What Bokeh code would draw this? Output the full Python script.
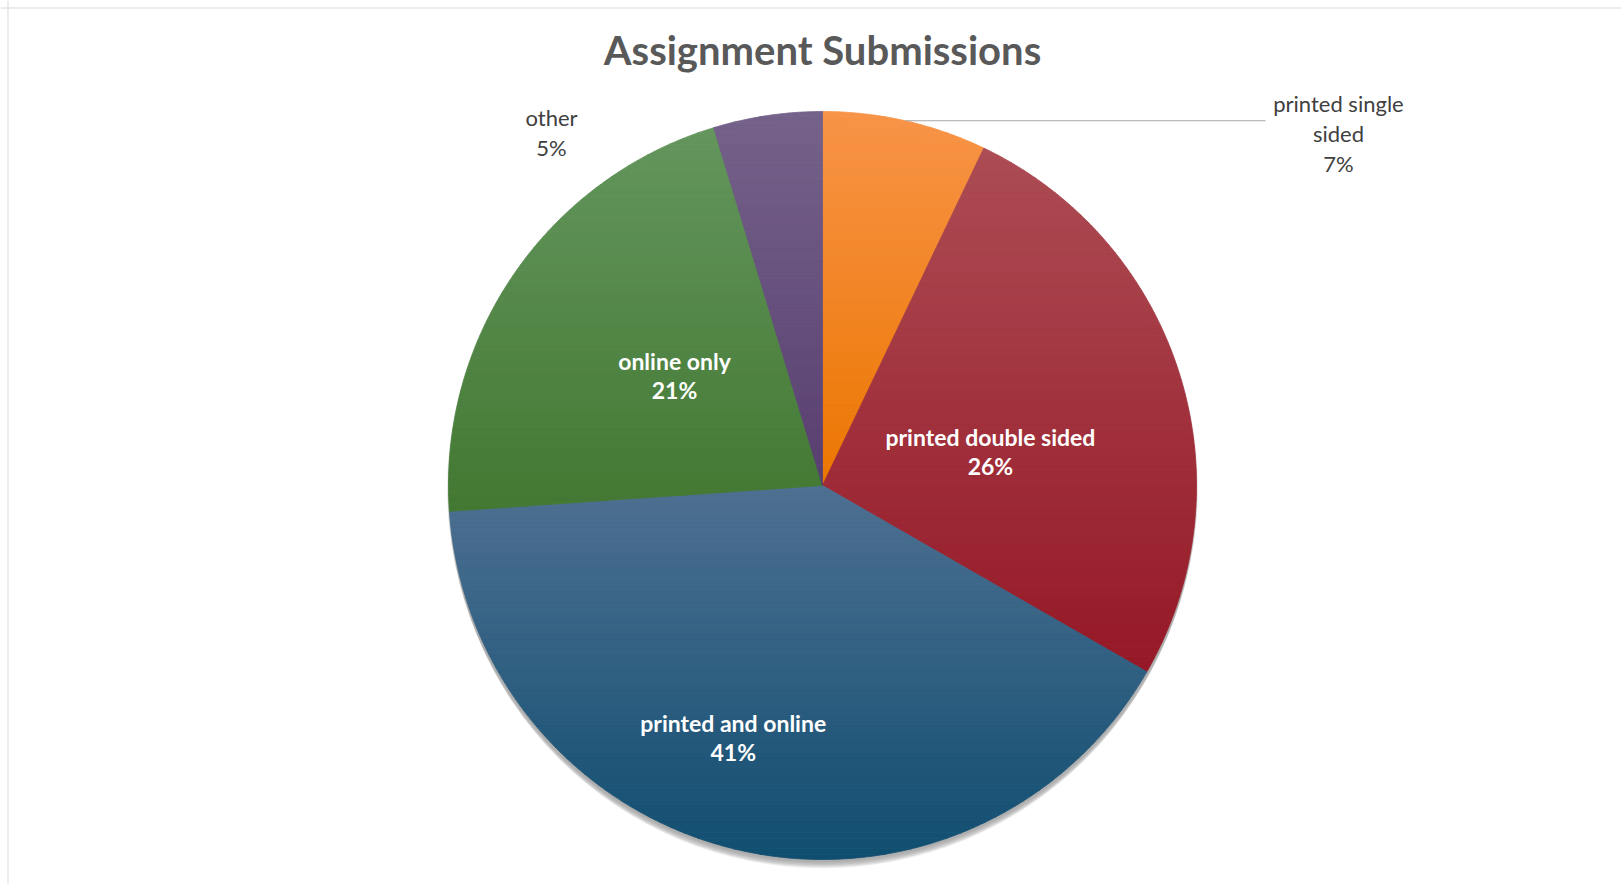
import numpy as np
from bokeh.plotting import figure
from bokeh.models import Range1d, Span
from bokeh.core.properties import value
from bokeh.embed import file_html
from bokeh.resources import INLINE

# ---------------- data ----------------
title = "Assignment Submissions"
categories = ["printed single sided", "printed double sided", "printed and online", "online only", "other"]
label_names = ["printed single\nsided", "printed double sided", "printed and online", "online only", "other"]
shares = [7.1, 26.2, 40.6, 21.4, 4.7]

# ---------------- style ----------------
top_colors = [(248, 148, 72), (172, 76, 84), (78, 112, 146), (100, 150, 93), (117, 98, 138)]
bottom_colors = [(236, 118, 0), (150, 24, 38), (16, 78, 112), (66, 120, 50), (88, 62, 112)]
label_inside = [False, True, True, True, False]
# label anchor: (radius fraction, bearing in degrees clockwise from top)
label_polar = [(1.67, 55.7), (0.458, 78.6), (0.715, 199.5), (0.493, 306.6), (1.19, 322.5)]

W, H = 1621, 884
CX, CY, R = 822.0, 485.0, 374.0  # pixel layout of the pie

def to_data_x(px):
    return (px - CX) / R

def to_data_y(py):
    return (CY - py) / R

p = figure(width=W, height=H, output_backend="svg", toolbar_location=None,
           x_range=Range1d(to_data_x(0), to_data_x(W)),
           y_range=Range1d(to_data_y(H), to_data_y(0)),
           min_border=0, min_border_left=0, min_border_right=0,
           min_border_top=0, min_border_bottom=0)
p.axis.visible = False
p.grid.visible = False
p.outline_line_color = None
p.background_fill_color = "white"
p.border_fill_color = "white"

# chart-area frame (only top and left edges are inside the window)
p.add_layout(Span(location=to_data_x(7.5), dimension="height", line_color="#D9D9D9", line_width=1))
p.add_layout(Span(location=to_data_y(7.5), dimension="width", line_color="#D9D9D9", line_width=1))

# soft shadow (mostly below the pie)
shadow_steps = [(0.004, 1.004, 0.05), (0.009, 1.003, 0.06), (0.014, 1.002, 0.07),
                (0.019, 1.000, 0.07), (0.024, 0.998, 0.06), (0.029, 0.995, 0.05)]
for off, rad, al in shadow_steps:
    p.circle(x=[0], y=[-off], radius=rad, fill_color="black", fill_alpha=al, line_color=None)

# ---------------- wedges with vertical gradient ----------------
def clip_half(pts, keep, yb):
    out = []
    n = len(pts)
    for i in range(n):
        a = pts[i]
        b = pts[(i + 1) % n]
        ain, bin_ = keep(a[1]), keep(b[1])
        if ain:
            out.append(a)
        if ain != bin_:
            t = (yb - a[1]) / (b[1] - a[1])
            out.append((a[0] + t * (b[0] - a[0]), yb))
    return out

def clip_band(poly, lo, hi):
    pts = clip_half(poly, lambda y: y >= lo, lo)
    if pts:
        pts = clip_half(pts, lambda y: y <= hi, hi)
    return pts

def hexcol(c):
    return "#%02x%02x%02x" % tuple(int(round(v)) for v in c)

total = float(sum(shares))
bearings = np.concatenate([[0.0], np.cumsum(shares) / total * 360.0])

xs_all, ys_all, cols = [], [], []
for k, share in enumerate(shares):
    b0, b1 = bearings[k], bearings[k + 1]
    nb = max(8, int((b1 - b0) * 2))
    ang = np.radians(np.linspace(b0, b1, nb))
    poly = [(0.0, 0.0)] + [(float(np.sin(a)), float(np.cos(a))) for a in ang]
    ymin = min(pt[1] for pt in poly)
    ymax = max(pt[1] for pt in poly)
    nbands = 70
    edges = np.linspace(ymax, ymin, nbands + 1)
    ct = np.array(top_colors[k], float)
    cb = np.array(bottom_colors[k], float)
    for j in range(nbands):
        hi, lo = edges[j], edges[j + 1]
        pts = clip_band(poly, lo, hi)
        if len(pts) < 3:
            continue
        t = (j + 0.5) / nbands
        c = hexcol(ct + (cb - ct) * t)
        xs_all.append([pt[0] for pt in pts])
        ys_all.append([pt[1] for pt in pts])
        cols.append(c)

p.patches(xs=xs_all, ys=ys_all, fill_color=cols, line_color=cols, line_width=0.8)

# ---------------- labels ----------------
mid_bearings = (bearings[:-1] + bearings[1:]) / 2.0
in_x, in_y, in_t = [], [], []
out_x, out_y, out_t = [], [], []
for k, share in enumerate(shares):
    rf, bd = label_polar[k]
    lx = rf * np.sin(np.radians(bd))
    ly = rf * np.cos(np.radians(bd))
    txt = f"{label_names[k]}\n{int(round(share))}%"
    if label_inside[k]:
        in_x.append(lx); in_y.append(ly); in_t.append(txt)
    else:
        out_x.append(lx); out_y.append(ly); out_t.append(txt)

# leader line for the small orange slice
lead_b = np.radians(mid_bearings[0])
sx, sy = float(np.sin(lead_b)), float(np.cos(lead_b))
p.line(x=[sx, to_data_x(1265)], y=[sy, sy], line_color="#A6A6A6", line_width=1.2)

p.text(x=in_x, y=in_y, text=in_t, text_font=value("Lato"), text_font_size="23px",
       text_font_style="bold", text_color="white", text_align="center",
       text_baseline="middle", text_line_height=1.05)
p.text(x=out_x, y=out_y, text=out_t, text_font=value("Lato"), text_font_size="22px",
       text_font_style="normal", text_color="#404040", text_align="center",
       text_baseline="middle", text_line_height=1.1)

# title
p.text(x=[0.0], y=[to_data_y(49)], text=[title], text_font=value("Lato"), text_font_size="40px",
       text_font_style="bold", text_color="#595959", text_align="center",
       text_baseline="alphabetic")

open("out.html", "w").write(file_html(p, INLINE))
